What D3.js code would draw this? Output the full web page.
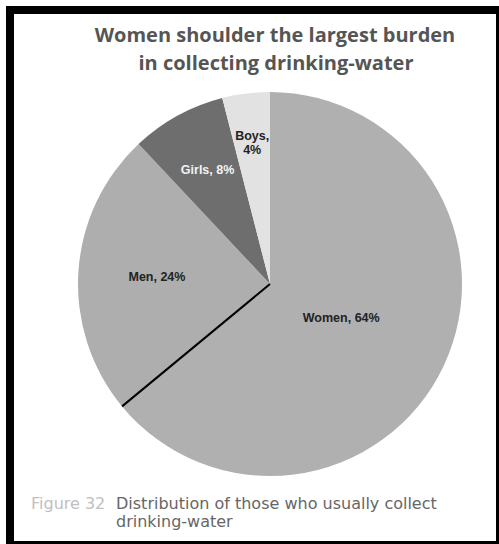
<!DOCTYPE html>
<meta charset="utf-8">
<style>
  body { margin: 0; background: #fff; }
  .title { font-family: "Open Sans", sans-serif; font-weight: 700; font-size: 20px; fill: #555; }
  .slice-label { font-family: "Liberation Sans", sans-serif; font-weight: 700; font-size: 12.5px; }
  .caption { font-family: "DejaVu Sans", sans-serif; font-size: 16px; }
</style>
<script src="https://d3js.org/d3.v7.min.js"></script>
<div id="chart"></div>
<script>
// data
var groups = ["Women", "Men", "Girls", "Boys"];
var shares = [64, 24, 8, 4];
var sliceColors = ["#b0b0b0", "#aeaeae", "#6e6e6e", "#e2e2e2"];
var labelColors = ["#222", "#222", "#f2f2f2", "#222"];

var width = 499, height = 544;
var cx = 270, cy = 284, radius = 192;

var svg = d3.select("#chart").append("svg")
  .attr("width", width)
  .attr("height", height);

// black frame
svg.append("rect").attr("x", 0).attr("y", 0).attr("width", width).attr("height", height).attr("fill", "#fff");
svg.append("path")
  .attr("fill", "#000")
  .attr("fill-rule", "evenodd")
  .attr("d", "M6,6H499V544H6Z M14,14H496V541H14Z");

// title
var title = svg.append("text").attr("class", "title").attr("text-anchor", "middle");
title.append("tspan").attr("x", 275).attr("y", 42).text("Women shoulder the largest burden");
title.append("tspan").attr("x", 276).attr("y", 70).text("in collecting drinking-water");

var pie = d3.pie().sort(null).value(function(d) { return d.v; });
var data = groups.map(function(g, i) { return {name: g, v: shares[i], i: i}; });
var arcs = pie(data);
var arc = d3.arc().innerRadius(0).outerRadius(radius);

var g = svg.append("g").attr("transform", "translate(" + cx + "," + cy + ")");

g.selectAll("path.slice")
  .data(arcs)
  .enter().append("path")
  .attr("class", "slice")
  .attr("d", arc)
  .attr("fill", function(d) { return sliceColors[d.data.i]; });

// black separator between Women and Men
var a = arcs[0].endAngle;
g.append("line")
  .attr("x1", 0).attr("y1", 0)
  .attr("x2", Math.sin(a) * radius)
  .attr("y2", -Math.cos(a) * radius)
  .attr("stroke", "#000")
  .attr("stroke-width", 2);

// label placement: fraction of radius along the slice's mid angle
var labelRadius = [0.41, 0.59, 0.675, 0.74];
var lines = [["Women, 64%"], ["Men, 24%"], ["Girls, 8%"], ["Boys,", "4%"]];

g.selectAll("text.slice-label")
  .data(arcs)
  .enter().append("text")
  .attr("class", "slice-label")
  .attr("text-anchor", "middle")
  .attr("fill", function(d) { return labelColors[d.data.i]; })
  .each(function(d) {
    var m = (d.startAngle + d.endAngle) / 2;
    var r = labelRadius[d.data.i] * radius;
    var x = Math.sin(m) * r, y = -Math.cos(m) * r;
    var ls = lines[d.data.i];
    var t = d3.select(this);
    ls.forEach(function(s, k) {
      t.append("tspan")
        .attr("x", x)
        .attr("y", y + 4 + (k - (ls.length - 1) / 2) * 14)
        .text(s);
    });
  });

// caption
var cap = svg.append("text").attr("class", "caption");
cap.append("tspan").attr("x", 31).attr("y", 509).attr("fill", "#c0c0c0").text("Figure 32");
cap.append("tspan").attr("x", 116).attr("y", 509).attr("fill", "#666")
  .text("Distribution of those who usually collect");
cap.append("tspan").attr("x", 116).attr("y", 527).attr("fill", "#666").text("drinking-water");
</script>
